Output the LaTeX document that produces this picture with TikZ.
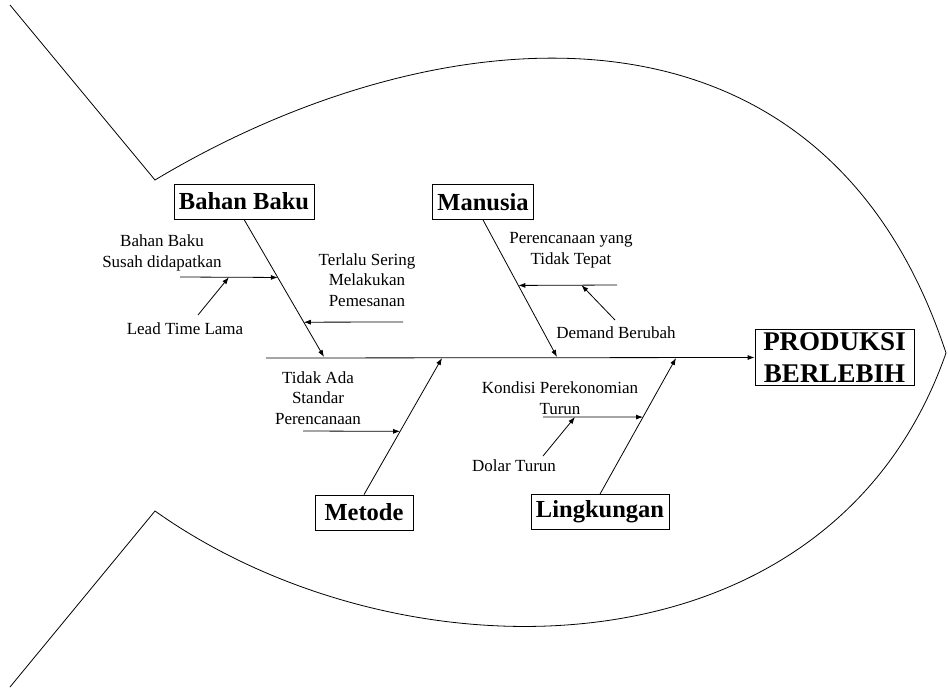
\documentclass[tikz,border=0pt]{standalone}
\usepackage{fontspec}
\setmainfont{Liberation Serif}
\usetikzlibrary{arrows.meta}

\tikzset{
    cause/.style={draw, font=\fontsize{24.5}{28}\selectfont\bfseries, inner xsep=5pt, minimum height=35pt},
    reason/.style={align=center, inner sep=0pt, font=\fontsize{17}{20.5}\selectfont},
    arr/.style={-{Latex[length=7pt,width=5pt]}},
}

\begin{document}
\begin{tikzpicture}[x=1pt, y=-1pt, line width=0.8pt]
    \useasboundingbox (0,0) rectangle (948,690);

    \coordinate (T1) at (10,5);
    \coordinate (T2) at (155,180);
    \coordinate (H) at (946,353);
    \coordinate (T3) at (155,511);
    \coordinate (T4) at (10,687);
    \draw (T1) -- (T2) .. controls (430,15) and (820,-30) .. (H)
        .. controls (830,685) and (400,685) .. (T3) -- (T4);

    \node[cause] (bb) at (244,201.5) {Bahan Baku};
    \node[cause] (mn) at (483,202) {Manusia};
    \node[cause, minimum width=98pt] (mt) at (364,512.5) {Metode};
    \node[cause] (lk) at (600,512) {Lingkungan};
    \node[draw, align=center, inner xsep=6pt, minimum width=159pt,
        font=\fontsize{27}{32}\selectfont\bfseries] (pb) at (834.5,357.5) {PRODUKSI\\BERLEBIH};

    \coordinate (sp) at (266,358);
    \draw[arr] (sp) -- (pb.west);

    \coordinate (bbe) at (324,357);
    \coordinate (mne) at (557,357);
    \coordinate (mte) at (442,358);
    \coordinate (lke) at (676,358);
    \draw[arr] (bb.south) -- (bbe) coordinate[pos=0.422] (bb1) coordinate[pos=0.747] (bb2);
    \draw[arr] (mn.south) -- (mne) coordinate[pos=0.478] (mn1);
    \draw[arr] (mt.north) -- (mte) coordinate[pos=0.463] (mt1);
    \draw[arr] (lk.north) -- (lke) coordinate[pos=0.566] (lk1);

    \node[reason] (sd) at (162,253) {Bahan Baku\\Susah didapatkan};
    \node[reason] (lt) at (185,329) {Lead Time Lama};
    \node[reason] (ts) at (367,280) {Terlalu Sering\\Melakukan\\Pemesanan};
    \node[reason] (ta) at (318,398) {Tidak Ada\\Standar\\Perencanaan};
    \node[reason] (py) at (571,250) {Perencanaan yang\\Tidak Tepat};
    \node[reason] (db) at (616,333) {Demand Berubah};
    \node[reason] (kp) at (560,398) {Kondisi Perekonomian\\Turun};
    \node[reason] (dt) at (514,466) {Dolar Turun};

    \coordinate (sd0) at (180,277);
    \coordinate (lt0) at (198,315);
    \coordinate (ts0) at (403,322);
    \coordinate (ta0) at (303,431);
    \coordinate (py0) at (617,285);
    \coordinate (db0) at (615,320);
    \coordinate (kp0) at (543,417);
    \coordinate (dt0) at (543,456);

    \draw[arr] (sd0) -- (bb1) coordinate[pos=0.5] (sd1);
    \draw[arr] (lt0) -- (sd1);
    \draw[arr] (ts0) -- (bb2);
    \draw[arr] (ta0) -- (mt1);
    \draw[arr] (py0) -- (mn1) coordinate[pos=0.36] (py1);
    \draw[arr] (db0) -- (py1);
    \draw[arr] (kp0) -- (lk1) coordinate[pos=0.32] (kp1);
    \draw[arr] (dt0) -- (kp1);
\end{tikzpicture}
\end{document}
